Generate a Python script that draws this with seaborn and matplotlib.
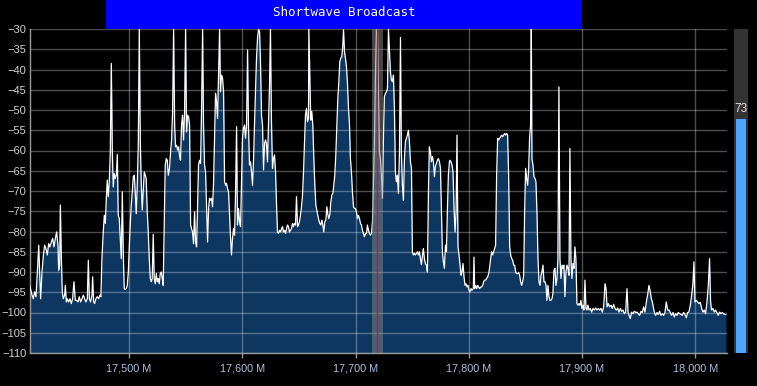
import matplotlib
matplotlib.use("Agg")
import pandas as pd
import matplotlib.pyplot as plt
import matplotlib.transforms as mtransforms
from matplotlib.ticker import MultipleLocator, FuncFormatter
import seaborn as sns

seg_a_khz = [17412.3, 17414.4, 17415.5, 17416.7, 17417.9, 17419.1, 17420.3, 17421.1, 17422.0, 17423.2,
             17424.4, 17425.5, 17426.7, 17427.9, 17429.1, 17430.2, 17431.4, 17432.6, 17433.8, 17435.0,
             17436.1, 17437.3, 17437.9, 17438.8, 17439.4, 17440.3, 17441.1, 17442.0, 17443.2, 17443.8,
             17444.7, 17445.5, 17446.7, 17447.9, 17449.1, 17450.2, 17451.4, 17452.6, 17453.8, 17455.0,
             17456.1, 17457.3, 17458.5, 17459.7, 17460.8, 17462.0, 17463.2, 17464.1, 17465.0, 17466.1,
             17467.3, 17467.9, 17468.8, 17469.7, 17470.8, 17472.0, 17473.2, 17474.4, 17475.2, 17476.1,
             17477.3, 17478.2, 17479.1, 17480.0, 17480.8, 17481.7, 17482.6, 17483.5, 17484.4, 17485.3,
             17486.1, 17487.0, 17487.9, 17488.8, 17489.7, 17490.5, 17491.4, 17492.3, 17493.2, 17494.1,
             17495.0, 17495.8, 17496.7, 17497.6, 17498.5, 17499.4, 17500.2, 17501.1, 17502.0, 17502.9,
             17503.8, 17504.7, 17505.5, 17506.4, 17507.3, 17508.2, 17509.1, 17510.0, 17510.8, 17511.7,
             17512.6, 17513.5, 17514.4, 17515.2, 17516.1, 17517.0, 17517.9, 17518.8, 17519.7, 17520.5,
             17521.4, 17522.3, 17523.2, 17524.1, 17525.0, 17525.8, 17526.7, 17527.6, 17528.5, 17529.4,
             17530.2, 17531.1, 17532.0, 17532.9, 17533.8, 17534.7]
seg_a_db = [-93.3, -95.7, -96.6, -94.9, -96.1, -90.0, -83.4, -90.0, -96.6, -90.0,
            -85.8, -83.4, -84.2, -85.8, -83.0, -83.8, -82.6, -81.7, -83.8, -81.7,
            -80.1, -83.4, -89.6, -88.3, -73.5, -86.7, -94.9, -96.6, -95.7, -93.3,
            -97.4, -96.6, -97.4, -96.6, -97.8, -96.6, -92.4, -97.0, -97.0, -97.4,
            -96.1, -97.4, -96.6, -95.7, -96.6, -97.4, -96.6, -87.1, -96.6, -97.4,
            -95.7, -91.2, -97.4, -97.8, -96.6, -96.1, -96.6, -95.7, -96.1, -86.7,
            -80.1, -76.0, -78.0, -71.8, -67.3, -71.4, -67.7, -60.3, -38.5, -60.3,
            -69.0, -65.7, -66.9, -66.1, -61.0, -76.0, -76.8, -81.7, -86.7, -70.2,
            -85.8, -94.1, -94.3, -94.1, -93.3, -90.0, -84.2, -78.4, -73.5, -70.2,
            -66.5, -66.1, -70.2, -75.6, -68.6, -58.7, -30.0, -57.8, -67.7, -74.7,
            -70.2, -65.3, -66.1, -66.9, -75.1, -80.1, -86.7, -91.6, -92.4, -91.6,
            -80.7, -91.6, -92.9, -90.4, -92.4, -91.6, -92.9, -90.4, -90.0, -91.6,
            -93.3, -78.4, -63.6, -62.0, -62.4, -66.1]

seg_b_khz = [17535.8, 17536.7, 17537.6, 17538.5, 17539.4, 17540.3, 17541.1, 17542.0, 17542.9, 17543.8,
             17544.7, 17545.5, 17546.4, 17547.3, 17548.2, 17549.1, 17550.0, 17550.8, 17551.7, 17552.6,
             17553.5, 17554.4, 17555.2, 17556.1, 17557.0, 17557.9, 17558.8, 17559.7, 17560.5, 17561.4,
             17562.3, 17563.2, 17564.1, 17565.0, 17565.8, 17566.7, 17567.6, 17568.5, 17569.4, 17570.3,
             17571.1, 17572.0, 17572.9, 17573.8, 17574.7, 17575.5, 17576.4, 17577.3, 17578.2, 17579.1,
             17580.0, 17580.8, 17581.7, 17582.6, 17583.5, 17584.4, 17585.3, 17586.1, 17587.0, 17587.9,
             17588.8, 17589.7, 17590.5, 17591.4, 17592.3, 17593.2, 17594.1, 17595.0, 17595.8, 17596.7,
             17597.6, 17598.5, 17599.4, 17600.2, 17601.1, 17602.0, 17602.9, 17603.8, 17604.7, 17605.5,
             17606.4, 17607.3, 17608.2, 17609.1, 17610.0, 17610.8, 17611.7, 17612.6, 17613.5, 17614.4,
             17615.3, 17616.1, 17617.0, 17617.9, 17618.8, 17619.7, 17620.5, 17621.4, 17622.3, 17623.2,
             17624.1, 17624.9, 17625.8, 17626.7, 17627.6, 17628.5, 17629.4, 17630.2, 17631.1, 17632.0,
             17632.9, 17633.8, 17634.7, 17635.5, 17636.4, 17637.3, 17638.2, 17639.1, 17640.0, 17640.8,
             17641.7, 17642.6, 17643.5, 17644.4, 17645.2, 17646.1, 17647.0, 17647.9, 17648.8, 17649.7,
             17650.5, 17651.4, 17652.3, 17653.2, 17654.1, 17654.9, 17655.8, 17656.7, 17657.6, 17658.5]
seg_b_db = [-64.4, -60.3, -57.4, -50.4, -30.0, -53.7, -59.1, -58.7, -59.9, -59.1,
            -61.5, -62.4, -53.7, -51.3, -57.4, -50.4, -30.0, -55.4, -51.3, -51.7,
            -53.7, -78.4, -79.3, -80.1, -83.0, -75.1, -82.6, -83.8, -74.3, -63.6,
            -62.4, -63.2, -49.6, -30.0, -53.7, -63.6, -65.3, -74.3, -82.6, -74.3,
            -71.8, -72.3, -71.8, -73.9, -67.7, -57.0, -45.9, -48.0, -52.1, -41.4,
            -30.0, -45.5, -41.4, -42.2, -45.5, -67.7, -68.6, -68.1, -69.4, -70.2,
            -76.0, -81.7, -85.8, -81.7, -79.3, -80.9, -70.2, -54.1, -78.4, -74.3,
            -77.6, -78.8, -67.7, -57.0, -54.5, -53.7, -57.0, -53.7, -35.2, -53.7,
            -63.6, -62.8, -65.3, -68.6, -62.0, -53.7, -45.5, -37.2, -32.3, -30.0,
            -30.7, -38.1, -51.3, -53.7, -64.8, -58.3, -57.4, -58.3, -62.8, -52.9,
            -43.8, -30.0, -52.9, -64.4, -62.0, -61.1, -65.3, -72.7, -80.1, -80.5,
            -79.7, -80.1, -79.3, -78.8, -80.1, -79.7, -80.5, -79.3, -78.4, -78.8,
            -80.1, -79.7, -79.3, -78.0, -78.8, -78.0, -78.4, -71.4, -78.8, -78.4,
            -77.6, -76.0, -73.9, -71.0, -65.3, -58.7, -51.3, -49.6, -52.9, -52.1]

seg_c_khz = [17658.8, 17659.7, 17660.5, 17661.4, 17662.3, 17663.2, 17664.1, 17665.0, 17665.8, 17666.7,
             17667.6, 17668.5, 17669.4, 17670.3, 17671.1, 17672.0, 17672.9, 17673.8, 17674.7, 17675.5,
             17676.4, 17677.3, 17678.2, 17679.1, 17680.0, 17680.8, 17681.7, 17682.6, 17683.5, 17684.4,
             17685.3, 17686.1, 17687.0, 17687.9, 17688.8, 17689.4, 17690.3, 17691.1, 17692.0, 17692.9,
             17693.8, 17694.7, 17695.5, 17696.4, 17697.3, 17698.2, 17699.1, 17699.9, 17700.8, 17701.7,
             17702.6, 17703.5, 17704.4, 17705.2, 17706.1, 17707.0, 17707.9, 17708.8, 17709.7, 17710.5,
             17711.4, 17712.3, 17713.2, 17714.1, 17715.0, 17715.8, 17716.7, 17717.6, 17718.5, 17719.4,
             17720.2, 17721.1, 17722.0, 17722.9, 17723.8, 17724.7, 17725.5, 17726.4, 17727.3, 17728.2,
             17729.1, 17730.0, 17730.8, 17731.7, 17732.6, 17733.5, 17734.4, 17735.2, 17736.1, 17737.0,
             17737.9, 17738.8, 17739.7, 17740.5, 17741.4, 17742.3, 17743.2, 17744.1, 17745.0, 17745.8,
             17746.7, 17747.6, 17748.5, 17749.4, 17750.2, 17751.1, 17752.0, 17752.9, 17753.8, 17754.7,
             17755.5, 17756.4, 17757.3, 17758.2, 17759.1, 17759.9, 17760.8, 17761.7, 17762.6, 17763.5,
             17764.4, 17765.2, 17766.1, 17767.0, 17767.9, 17768.8, 17769.7, 17770.5, 17771.4, 17772.3,
             17773.2, 17774.1, 17775.0, 17775.8, 17776.7, 17777.6, 17778.5, 17779.4, 17780.3, 17781.1,
             17782.0, 17782.9]
seg_c_db = [-30.0, -41.4, -52.5, -50.4, -53.7, -62.0, -68.6, -73.5, -74.7, -76.0,
            -77.2, -78.0, -78.4, -77.2, -78.4, -80.1, -77.6, -77.2, -73.9, -75.6,
            -76.8, -76.0, -72.7, -71.0, -70.6, -68.6, -66.1, -61.1, -53.7, -47.1,
            -43.0, -38.1, -37.2, -36.8, -34.0, -30.2, -35.6, -37.2, -39.3, -43.4,
            -49.6, -53.7, -62.0, -65.3, -70.2, -73.9, -74.3, -74.3, -75.1, -76.8,
            -76.0, -76.8, -78.0, -78.4, -79.7, -80.5, -81.3, -80.5, -80.5, -78.4,
            -79.7, -80.5, -80.9, -80.5, -77.6, -68.6, -57.8, -41.4, -30.0, -30.0,
            -45.5, -60.3, -62.0, -66.1, -71.8, -56.2, -46.7, -45.9, -45.5, -44.7,
            -30.0, -35.6, -40.5, -42.6, -43.0, -41.4, -50.4, -65.3, -67.7, -66.1,
            -70.6, -60.3, -32.1, -60.3, -68.6, -72.3, -62.0, -57.8, -57.0, -56.2,
            -55.0, -57.8, -62.8, -64.4, -85.0, -85.8, -85.4, -85.8, -85.4, -85.0,
            -85.8, -85.0, -86.7, -88.2, -85.8, -84.2, -86.7, -87.9, -88.3, -90.0,
            -70.2, -59.1, -60.3, -62.8, -61.5, -62.8, -66.5, -64.0, -63.2, -62.4,
            -62.0, -62.8, -64.4, -74.3, -85.0, -87.5, -89.1, -83.4, -85.0, -75.1,
            -66.1, -62.8]

seg_d_khz = [17783.5, 17784.3, 17785.2, 17786.1, 17787.0, 17787.9, 17788.8, 17789.6, 17790.5, 17791.4,
             17792.3, 17793.2, 17794.0, 17794.9, 17795.8, 17796.7, 17797.6, 17798.5, 17799.3, 17800.2,
             17801.1, 17802.0, 17802.9, 17804.0, 17804.6, 17805.2, 17806.1, 17807.0, 17807.9, 17808.8,
             17809.6, 17810.5, 17811.4, 17812.3, 17813.2, 17814.0, 17814.9, 17815.8, 17816.7, 17817.6,
             17818.5, 17819.3, 17820.2, 17821.1, 17822.0, 17822.9, 17823.7, 17824.6, 17825.5, 17826.4,
             17827.3, 17828.2, 17829.0, 17829.9, 17830.8, 17831.7, 17832.6, 17833.5, 17834.3, 17835.2,
             17836.1, 17837.0, 17837.9, 17838.8, 17839.6, 17840.5, 17841.4, 17842.3, 17843.2, 17844.0,
             17844.9, 17845.8, 17846.7, 17847.6, 17848.5, 17849.3, 17850.2, 17851.1, 17852.0, 17852.9,
             17853.7, 17854.6, 17855.2, 17855.8, 17856.7, 17857.6, 17858.5, 17859.3, 17860.2, 17861.1,
             17862.0, 17862.9, 17863.8, 17864.6, 17865.5, 17866.4, 17867.3, 17868.2, 17869.0, 17869.9,
             17870.8, 17871.7, 17872.6, 17873.5, 17874.3, 17875.2, 17876.1, 17877.0, 17877.9, 17878.7,
             17879.6, 17880.5, 17881.4, 17882.3, 17883.2, 17884.0, 17884.9, 17885.8, 17886.7, 17887.6,
             17888.5, 17889.3, 17890.2, 17891.1, 17892.0, 17892.9, 17893.7, 17894.6, 17895.5, 17896.4,
             17897.3, 17898.2, 17899.0, 17899.9, 17900.8, 17901.7, 17902.6, 17903.5, 17904.3, 17905.2]
seg_d_db = [-62.4, -62.8, -63.6, -65.3, -74.3, -80.1, -75.1, -56.2, -83.8, -85.8,
            -88.3, -90.8, -90.0, -87.9, -91.2, -93.3, -92.9, -93.7, -93.3, -94.5,
            -94.9, -94.1, -94.5, -94.1, -86.3, -94.1, -93.3, -94.1, -93.3, -93.7,
            -94.1, -93.7, -93.7, -93.3, -92.4, -92.0, -92.0, -91.6, -91.2, -90.4,
            -88.7, -86.7, -85.0, -85.8, -85.0, -84.2, -83.4, -66.1, -57.0, -57.4,
            -57.0, -56.6, -56.2, -56.6, -56.2, -55.8, -56.2, -55.8, -56.2, -66.1,
            -83.8, -85.8, -86.7, -87.1, -88.3, -88.3, -90.0, -90.4, -90.4, -90.1,
            -90.8, -92.4, -93.3, -92.4, -90.8, -75.1, -64.4, -66.9, -68.6, -64.4,
            -57.0, -53.7, -30.0, -62.0, -63.6, -66.5, -66.9, -67.7, -75.1, -86.7,
            -92.4, -93.3, -90.8, -90.0, -88.3, -92.4, -92.4, -93.3, -97.0, -93.3,
            -96.1, -97.0, -97.0, -96.6, -95.3, -89.6, -89.1, -93.3, -91.6, -86.7,
            -44.3, -86.7, -91.6, -88.3, -89.1, -88.3, -96.1, -90.0, -88.3, -89.1,
            -90.8, -59.5, -86.7, -91.6, -87.9, -89.1, -83.8, -86.7, -97.8, -98.2,
            -97.8, -98.2, -97.0, -99.0, -98.2, -99.4, -92.0, -99.0, -99.4, -98.2]

seg_e_khz = [17906.2, 17907.4, 17908.5, 17909.7, 17910.9, 17912.1, 17913.2, 17914.4, 17915.6, 17916.8,
             17917.9, 17919.1, 17920.3, 17921.2, 17922.1, 17923.2, 17924.4, 17925.6, 17926.8, 17927.9,
             17929.1, 17930.3, 17931.5, 17932.6, 17933.8, 17935.0, 17936.2, 17937.4, 17938.5, 17939.7,
             17940.6, 17941.5, 17942.6, 17943.8, 17945.0, 17946.2, 17947.4, 17948.5, 17949.7, 17950.9,
             17952.1, 17953.2, 17954.4, 17955.6, 17956.8, 17957.9, 17959.1, 17960.3, 17961.2, 17962.1,
             17962.9, 17963.8, 17965.0, 17966.2, 17967.3, 17968.5, 17969.7, 17970.9, 17972.1, 17973.2,
             17974.4, 17975.6, 17976.8, 17977.9, 17979.1, 17980.3, 17981.5, 17982.6, 17983.8, 17985.0,
             17986.2, 17987.3, 17988.5, 17989.7, 17990.9, 17992.1, 17993.2, 17994.4, 17995.6, 17996.8,
             17997.9, 17998.8, 17999.7, 18000.9, 18002.1, 18003.2, 18004.4, 18005.6, 18006.8, 18007.9,
             18009.1, 18010.3, 18011.5, 18012.6, 18013.5, 18014.4, 18015.6, 18016.8, 18017.9, 18019.1,
             18020.3, 18021.5, 18022.6, 18023.8, 18025.0, 18026.2, 18027.1]
seg_e_db = [-99.4, -99.0, -99.9, -99.0, -99.4, -98.9, -99.4, -99.0, -99.4, -99.0,
            -99.9, -98.6, -92.9, -94.1, -98.6, -97.8, -98.6, -98.2, -99.0, -98.0,
            -99.0, -99.4, -98.9, -99.9, -99.0, -99.7, -99.4, -100.3, -99.9, -94.1,
            -99.9, -100.7, -101.5, -99.9, -100.3, -99.7, -100.0, -99.9, -100.3, -100.7,
            -99.7, -100.0, -98.6, -99.9, -97.4, -95.7, -93.3, -94.9, -96.6, -97.4,
            -98.6, -99.9, -100.7, -100.0, -100.5, -99.7, -100.7, -100.3, -100.7, -100.0,
            -97.4, -99.4, -99.4, -100.0, -100.7, -100.0, -101.1, -100.3, -100.7, -100.0,
            -100.3, -100.5, -100.7, -100.0, -100.5, -101.3, -100.0, -99.9, -98.2, -95.7,
            -92.9, -87.5, -97.4, -97.0, -97.4, -97.8, -97.5, -99.0, -99.9, -99.4,
            -100.3, -97.4, -93.3, -86.7, -97.4, -99.4, -99.0, -99.9, -99.4, -100.0,
            -100.7, -99.9, -100.3, -100.0, -100.3, -100.5, -100.5]

band_name = "Shortwave Broadcast"
band_start, band_end = 17480, 17900
tuned_khz = 17719.3
filter_lo, filter_hi = 17714.6, 17724.4
signal_level = 73

spectrum = pd.DataFrame({
    "freq": seg_a_khz + seg_b_khz + seg_c_khz + seg_d_khz + seg_e_khz,
    "level": seg_a_db + seg_b_db + seg_c_db + seg_d_db + seg_e_db,
})

sns.set_theme(style="dark")
plt.rcParams["font.family"] = ["Liberation Sans", "DejaVu Sans"]

W, H = 757, 386
fig = plt.figure(figsize=(W / 100, H / 100), dpi=100, facecolor="black")
ax = fig.add_axes([30 / W, 33 / H, 697 / W, 324 / H])
ax.set_facecolor("black")

ax.fill_between(spectrum.freq, spectrum.level, -110, color="#0d3761", lw=0, zorder=1)
sns.lineplot(data=spectrum, x="freq", y="level", ax=ax, color="white", lw=0.9,
             estimator=None, sort=False, zorder=3)

# filter passband and tuned frequency
ax.axvspan(filter_lo, filter_hi, color="#8a8a8a", alpha=0.5, lw=0, zorder=4)
ax.axvline(tuned_khz, color="#ff0000", lw=0.9, zorder=5)

ax.set_xlim(17412.6, 18028)
ax.set_ylim(-110, -30)
ax.xaxis.set_major_locator(MultipleLocator(100))
ax.yaxis.set_major_locator(MultipleLocator(5))
ax.xaxis.set_major_formatter(FuncFormatter(lambda v, p: f"{v:,.0f} M"))
ax.set_xlabel("")
ax.set_ylabel("")

ax.grid(True, color="white", alpha=0.3, lw=1)
ax.set_axisbelow("line")
for side in ["top", "right"]:
    ax.spines[side].set_visible(False)
for side in ["left", "bottom"]:
    ax.spines[side].set_color("#9a9a9a")
    ax.spines[side].set_linewidth(1)

ax.tick_params(axis="x", bottom=True, length=3.5, width=1, color="#9a9a9a",
               labelcolor="#a9c1dc", labelsize=7.8, pad=4)
ax.tick_params(axis="y", left=False, length=0, labelcolor="#d0d0d0", labelsize=8, pad=2.5)

# band banner above the plot
trans = mtransforms.blended_transform_factory(ax.transData, ax.transAxes)
ax.axvspan(band_start, band_end, ymin=1, ymax=1 + 29 / 324, color="#0000ff", lw=0, clip_on=False)
ax.text((band_start + band_end) / 2, 1 + 17 / 324, band_name, transform=trans,
        ha="center", va="center", color="white", fontsize=9, family="DejaVu Sans Mono")

# signal meter on the right
meter = fig.add_axes([734 / W, 33 / H, 14 / W, 324 / H])
meter.set_facecolor("#333333")
meter.bar(0, signal_level, width=10 / 14, color="#4da6ff", lw=0)
meter.set_xlim(-0.5, 0.5)
meter.set_ylim(0, 101)
meter.set_xticks([])
meter.set_yticks([])
for s in meter.spines.values():
    s.set_visible(False)
meter.annotate(str(signal_level), (0, signal_level), xytext=(0, 3), textcoords="offset points",
               ha="center", va="bottom", color="#f0e4d8", fontsize=8.5, annotation_clip=False)

fig.savefig("out.png", dpi=100, facecolor="black")
